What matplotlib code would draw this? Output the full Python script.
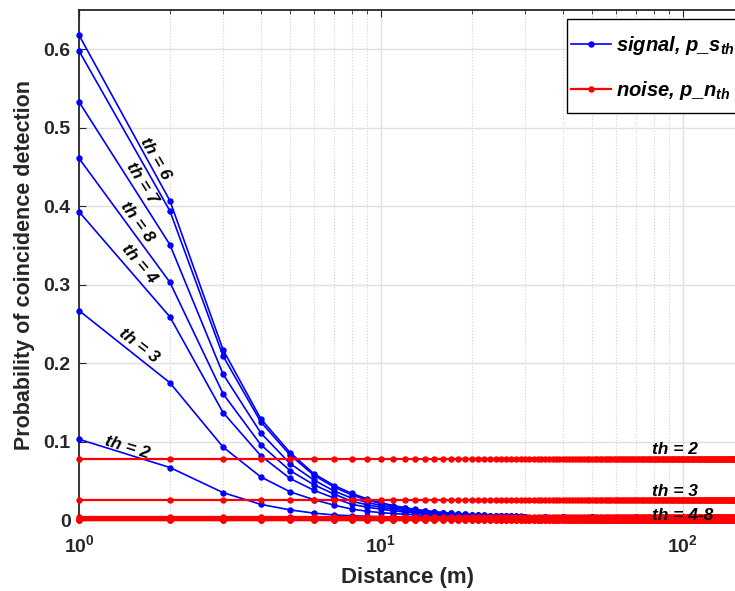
import matplotlib.pyplot as plt
import matplotlib.patches as mpatches
import numpy as np

plt.rcParams['font.family'] = ['Liberation Sans', 'DejaVu Sans']
plt.rcParams['mathtext.fontset'] = 'custom'
plt.rcParams['mathtext.it'] = 'Liberation Sans:italic:bold'
plt.rcParams['mathtext.rm'] = 'Liberation Sans:bold'

# signal probability, sampled distances (m)
dist_sig = list(range(1, 31)) + [35, 40, 50, 70, 100, 150]

sig_a = [0.618, 0.407, 0.217, 0.129, 0.086, 0.059, 0.044, 0.034,
         0.027, 0.022, 0.0185, 0.0158, 0.0137, 0.012, 0.0107, 0.0096, 0.0087, 0.008,
         0.0074, 0.0069, 0.0065, 0.0061, 0.0058, 0.0055, 0.0053, 0.0051, 0.0049, 0.0047,
         0.0046, 0.0045, 0.0041, 0.0038, 0.0035, 0.0033, 0.0032, 0.0031]
sig_b = [0.598, 0.394, 0.209, 0.125, 0.083, 0.057, 0.042, 0.032,
         0.0255, 0.021, 0.0177, 0.0151, 0.0131, 0.0115, 0.0103, 0.0093, 0.0084, 0.0078,
         0.0072, 0.0067, 0.0063, 0.006, 0.0057, 0.0054, 0.0052, 0.005, 0.0048, 0.0046,
         0.0045, 0.0044, 0.004, 0.0037, 0.0035, 0.0033, 0.0032, 0.0031]
sig_c = [0.533, 0.351, 0.186, 0.111, 0.072, 0.051, 0.037, 0.028,
         0.0225, 0.0186, 0.0157, 0.0135, 0.0118, 0.0104, 0.0094, 0.0085, 0.0078, 0.0072,
         0.0067, 0.0063, 0.0059, 0.0056, 0.0053, 0.0051, 0.0049, 0.0047, 0.0046, 0.0044,
         0.0043, 0.0042, 0.0039, 0.0037, 0.0034, 0.0033, 0.0032, 0.0031]
sig_d = [0.461, 0.303, 0.161, 0.096, 0.063, 0.045, 0.033, 0.024,
         0.0195, 0.0162, 0.0138, 0.0119, 0.0105, 0.0093, 0.0084, 0.0077, 0.0071, 0.0066,
         0.0062, 0.0058, 0.0055, 0.0052, 0.005, 0.0048, 0.0046, 0.0045, 0.0043, 0.0042,
         0.0041, 0.004, 0.0037, 0.0035, 0.0034, 0.0032, 0.0031, 0.0031]
sig_e = [0.393, 0.259, 0.137, 0.082, 0.053, 0.038, 0.028, 0.020,
         0.0165, 0.0138, 0.0118, 0.0103, 0.0091, 0.0082, 0.0075, 0.0069, 0.0064, 0.006,
         0.0056, 0.0053, 0.0051, 0.0049, 0.0047, 0.0045, 0.0044, 0.0043, 0.0042, 0.0041,
         0.004, 0.0039, 0.0036, 0.0034, 0.0033, 0.0032, 0.0031, 0.003]
sig_f = [0.267, 0.175, 0.093, 0.055, 0.036, 0.026, 0.019, 0.014,
         0.0112, 0.0095, 0.0083, 0.0074, 0.0067, 0.0061, 0.0057, 0.0053, 0.005, 0.0048,
         0.0046, 0.0044, 0.0043, 0.0041, 0.004, 0.0039, 0.0038, 0.0038, 0.0037, 0.0036,
         0.0036, 0.0035, 0.0034, 0.0033, 0.0032, 0.0031, 0.003, 0.003]
sig_g = [0.103, 0.067, 0.035, 0.020, 0.013, 0.0088, 0.0065, 0.0055,
         0.0048, 0.0043, 0.0039, 0.0036, 0.0034, 0.0033, 0.0032, 0.0031, 0.0031, 0.003,
         0.003, 0.003, 0.003, 0.003, 0.003, 0.003, 0.003, 0.003, 0.003, 0.003,
         0.003, 0.003, 0.003, 0.003, 0.003, 0.003, 0.003, 0.003]
signals = [sig_a, sig_b, sig_c, sig_d, sig_e, sig_f, sig_g]

# noise probability per threshold (constant with distance)
dist_noise = np.arange(1, 151)
thresholds = [2, 3, 4, 5, 6, 7, 8]
noise = [0.078, 0.0255, 0.0038, 0.0008, 0.0002, 0.00004, 0.00001]

fig = plt.figure(figsize=(7.35, 5.91), dpi=100)
ax = fig.add_axes([0.1075, 0.120, 0.8940, 0.863])

for i, s in enumerate(signals):
    ax.plot(dist_sig, s, '-o', color='#0000ff', lw=1.2, ms=3.6,
            clip_on=False, zorder=3, label='signal, p_s$_{th}$' if i == 0 else None)
for i, n in enumerate(noise):
    ax.plot(dist_noise, [n] * len(dist_noise), '-o', color='#ff0000', lw=1.6, ms=3.6,
            clip_on=False, zorder=4, label='noise, p_n$_{th}$' if i == 0 else None)

ax.set_xscale('log')
ax.set_xlim(1, 150)
ax.set_ylim(0, 0.65)
ax.set_yticks([0, 0.1, 0.2, 0.3, 0.4, 0.5, 0.6])
ax.set_yticklabels(['0', '0.1', '0.2', '0.3', '0.4', '0.5', '0.6'])

ax.grid(True, which='major', color='#e0e0e0', lw=1.0, zorder=0)
ax.grid(True, which='minor', axis='x', color='#d0d0d0', lw=0.8, ls=':', zorder=0)
ax.tick_params(which='both', direction='in', top=True, right=False,
               labelsize=14, colors='#262626')
ax.tick_params(which='major', length=5)
ax.tick_params(which='minor', length=3)
ax.tick_params(axis='x', which='both', pad=10)
ax.tick_params(axis='y', pad=6)
for lab in ax.get_xticklabels() + ax.get_yticklabels():
    lab.set_fontweight('bold')
for sp in ['left', 'top', 'bottom']:
    ax.spines[sp].set_color('#262626')
    ax.spines[sp].set_linewidth(1.3)
ax.spines['right'].set_visible(False)

ax.set_xlabel('Distance (m)', fontsize=16, fontweight='bold', color='#262626', labelpad=8)
ax.set_ylabel('Probability of coincidence detection', fontsize=15.5, fontweight='bold',
              color='#262626', labelpad=6)

# threshold labels
tkw = dict(fontsize=12.5, fontweight='bold', style='italic', ha='center', va='center', zorder=6)
ax.text(1.785, 0.461, 'th = 6', rotation=-60, **tkw)
ax.text(1.617, 0.429, 'th = 7', rotation=-58, **tkw)
ax.text(1.556, 0.380, 'th = 8', rotation=-54, **tkw)
ax.text(1.58, 0.327, 'th = 4', rotation=-50, **tkw)
ax.text(1.58, 0.222, 'th = 3', rotation=-38, **tkw)
ax.text(1.44, 0.093, 'th = 2', rotation=-17, **tkw)
rkw = dict(fontsize=12.5, fontweight='bold', style='italic', ha='left', va='center', zorder=6)
ax.text(79, 0.090, 'th = 2', **rkw)
ax.text(79, 0.037, 'th = 3', **rkw)
ax.text(79, 0.006, 'th = 4-8', **rkw)

# legend box drawn by hand, legend entries on top
box = mpatches.Rectangle((567 / 735, 1 - 113 / 591), 180 / 735, 94 / 591,
                         transform=fig.transFigure, facecolor='white', edgecolor='black',
                         lw=1.0, zorder=9, clip_on=False)
ax.add_patch(box)
leg = ax.legend(loc='upper left', bbox_to_anchor=(571 / 735, 1 - 34 / 591),
                bbox_transform=fig.transFigure, borderaxespad=0, borderpad=0,
                prop={'size': 14.5, 'weight': 'bold', 'style': 'italic'},
                handlelength=2.0, handletextpad=0.25, labelspacing=1.1,
                frameon=False)
leg.set_zorder(10)

fig.savefig('out.png', dpi=100)
